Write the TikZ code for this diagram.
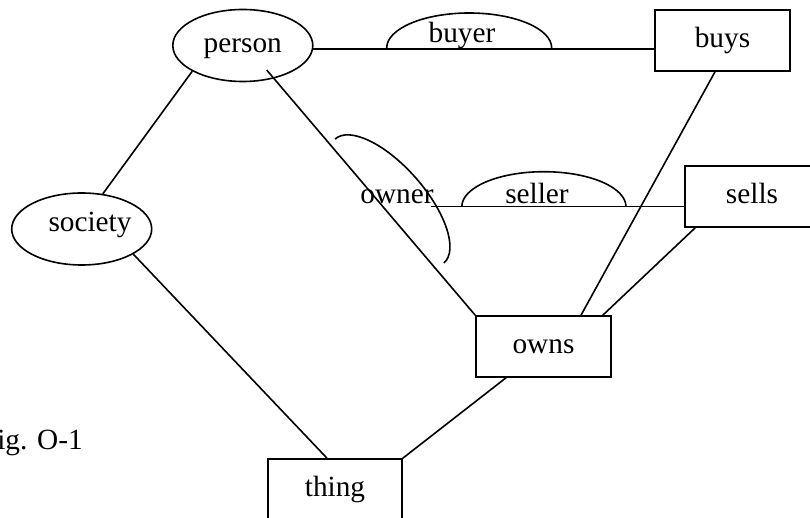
\documentclass[tikz,border=0pt]{standalone}
\usepackage{fontspec}
\setmainfont{Liberation Serif}
\usetikzlibrary{shapes.geometric,calc}
\begin{document}
\begin{tikzpicture}[x=1pt,y=-1pt,
  every node/.style={font=\fontsize{29.3}{35}\selectfont, inner sep=0pt, text height=20.5pt, text depth=5.9pt},
  ent/.style={draw, line width=1.6pt, ellipse, minimum width=140pt, minimum height=72pt},
  rel/.style={draw, line width=1.6pt, rectangle, minimum width=135pt, minimum height=61pt},
  lbl/.style={anchor=base},
  conn/.style={line width=1.6pt}]
\useasboundingbox (0,0) rectangle (810,518);
\clip (0,0) rectangle (810,518);
% entities
\node[ent] (person) at (242.8,45.5) {person};
\node[ent] (society) at (81.7,229) {};
\node[lbl] (societytext) at (90,232) {society};
% relations
\node[rel] (buys) at (722.5,40.5) {buys};
\node[rel, minimum width=134pt] (sells) at (752,196.5) {sells};
\node[rel] (owns) at (543.5,346.5) {owns};
\node[rel, minimum width=134pt] (thing) at (335,489.5) {thing};
% role labels
\node[lbl] (buyer) at (462,43) {buyer};
\node[lbl] (seller) at (537,204) {seller};
\node[lbl] (owner) at (397,204) {owner};
\node[lbl, anchor=base east] (fig) at (83,449) {Fig. O-1};
% connectors
\draw[conn] (person.-3.7) -- (person.-3.7 -| buys.west);
\draw[conn] (person.207.5) -- (society.59.4);
\draw[conn] (society.-26.9) -- ($(thing.north)+(-8,0)$);
\draw[conn] ($(person)+(23.9,24.5)$) -- (owns.north west);
\draw[conn] ($(buys.south)+(-7.5,0)$) -- ($(owns.north)+(37.5,0)$);
\draw[conn] ($(sells.south west)+(11,0)$) -- ($(owns.north east)+(-9,0)$);
\draw[conn] ($(owns.south)+(-37.5,0)$) -- (thing.north east);
\coordinate (sellstart) at (431,206.7);
\draw[conn] (sellstart) -- (sellstart -| sells.west);
% role arcs
\draw[conn] (551.7,48) arc[start angle=0,end angle=-180,x radius=82.5,y radius=35];
\draw[conn] (626,206.7) arc[start angle=0,end angle=-180,x radius=82.1,y radius=35];
\draw[conn, rotate around={-48.7:(389.5,201)}] (472,201) arc[start angle=0,end angle=-180,x radius=82.5,y radius=35];
\end{tikzpicture}
\end{document}
